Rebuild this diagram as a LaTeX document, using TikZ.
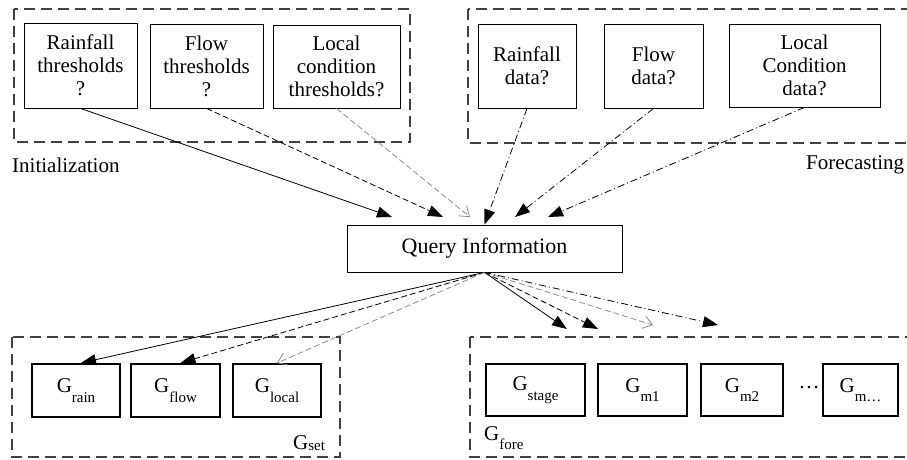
\documentclass[tikz,border=0pt]{standalone}
\usepackage{fontspec}
\setmainfont{Liberation Serif}
\usetikzlibrary{arrows.meta}

\newcommand{\gsub}[1]{G\raisebox{-1ex}{\fontsize{15}{15}\selectfont #1}}

\tikzset{
    frame/.style={draw=black!75, line width=2.4pt, dash pattern=on 11pt off 6pt},
    askbox/.style={draw, line width=.8pt, align=center, inner sep=0pt},
    gbox/.style={draw, line width=2pt, inner sep=0pt},
    tip/.style={-{Triangle[length=15pt,width=11pt]}},
    opentip/.style={-{Straight Barb[length=9pt,width=13pt,line width=.8pt]}},
    link/.style={line width=.8pt},
    dashlink/.style={link, dash pattern=on 6pt off 3pt},
    dotlink/.style={link, dash pattern=on 7pt off 3pt on 1pt off 3pt},
    graylink/.style={link, draw=black!45, dash pattern=on 6pt off 3pt}
}

\begin{document}
\begin{tikzpicture}[x=1pt, y=-1pt, font=\fontsize{21}{23}\selectfont]
    \useasboundingbox (0,0) rectangle (907,460);

    % initialization
    \draw[frame] (14,9) rectangle (410,142);
    \node[askbox, minimum width=113pt, minimum height=85pt] (rthr) at (80.5,65.5) {Rainfall\\thresholds\\?};
    \node[askbox, minimum width=113pt, minimum height=84pt] (fthr) at (206.5,66) {Flow\\thresholds\\?};
    \node[askbox, minimum width=127pt, minimum height=83pt] (lthr) at (336.5,66.5) {Local\\condition\\thresholds?};
    \node[anchor=west, inner sep=0pt] (init) at (12,165) {Initialization};

    % forecasting
    \draw[frame] (468,9) rectangle (930,143);
    \node[askbox, minimum width=98pt, minimum height=84pt] (rdat) at (527,66) {Rainfall\\data?};
    \node[askbox, minimum width=99pt, minimum height=84pt] (fdat) at (653.5,66) {Flow\\data?};
    \node[askbox, minimum width=151pt, minimum height=83pt] (ldat) at (804.5,65.5) {Local\\Condition\\data?};
    \node[anchor=west, inner sep=0pt] (fore) at (806,165) {Forecasting};

    % query
    \node[askbox, minimum width=275pt, minimum height=47pt, font=\fontsize{22}{24}\selectfont] (query) at (484.5,248.5) {Query Information};

    % setting group
    \draw[frame] (12,337) rectangle (340,457);
    \node[gbox, minimum width=88pt, minimum height=53pt] (grain) at (76,390.5) {\gsub{rain}};
    \node[gbox, minimum width=89pt, minimum height=53pt] (gflow) at (175.5,390.5) {\gsub{flow}};
    \node[gbox, minimum width=88pt, minimum height=53pt] (glocal) at (277,390.5) {\gsub{local}};
    \node[inner sep=0pt] (gset) at (309,443) {G\raisebox{-.1ex}{\fontsize{15}{15}\selectfont set}};

    % forecasting group
    \draw[frame] (470,337) rectangle (930,457);
    \node[gbox, minimum width=99pt, minimum height=52pt] (gstage) at (535.5,390) {\gsub{stage}};
    \node[gbox, minimum width=89pt, minimum height=52pt] (gmone) at (642.5,390) {\gsub{m1}};
    \node[gbox, minimum width=82pt, minimum height=52pt] (gmtwo) at (742,390) {\gsub{m2}};
    \node[inner sep=0pt] (dots) at (809,388) {\dots};
    \node[gbox, minimum width=75pt, minimum height=52pt] (gmore) at (860.5,390) {\gsub{m\dots}};
    \node[anchor=west, inner sep=0pt] (gfore) at (484,438) {\gsub{fore}};

    % arrow ends
    \coordinate (qa) at (392,217);
    \coordinate (qb) at (443,217);
    \coordinate (qc) at (470,217);
    \coordinate (qd) at (515,217);
    \coordinate (qe) at (548,217);
    \coordinate (fa) at (567,329);
    \coordinate (fb) at (598,329);
    \coordinate (fc) at (653,325);
    \coordinate (fd) at (718,325);

    % into query
    \draw[link, tip] (rthr.south) -- (qa);
    \draw[dashlink, tip] (fthr.south) -- (qb);
    \draw[graylink, opentip] (lthr.south) -- (qc);
    \draw[dotlink, tip] (rdat.south) -- (query.north);
    \draw[dotlink, tip] (fdat.south) -- (qd);
    \draw[dotlink, tip] (ldat.south) -- (qe);

    % out of query
    \draw[link, tip] (query.south) -- ([xshift=5pt]grain.north);
    \draw[dashlink, tip] (query.south) -- ([xshift=5pt]gflow.north);
    \draw[graylink, opentip] (query.south) -- (glocal.north);
    \draw[link, tip] (query.south) -- (fa);
    \draw[dashlink, tip] (query.south) -- (fb);
    \draw[graylink, opentip] (query.south) -- (fc);
    \draw[dotlink, tip] (query.south) -- (fd);
\end{tikzpicture}
\end{document}
